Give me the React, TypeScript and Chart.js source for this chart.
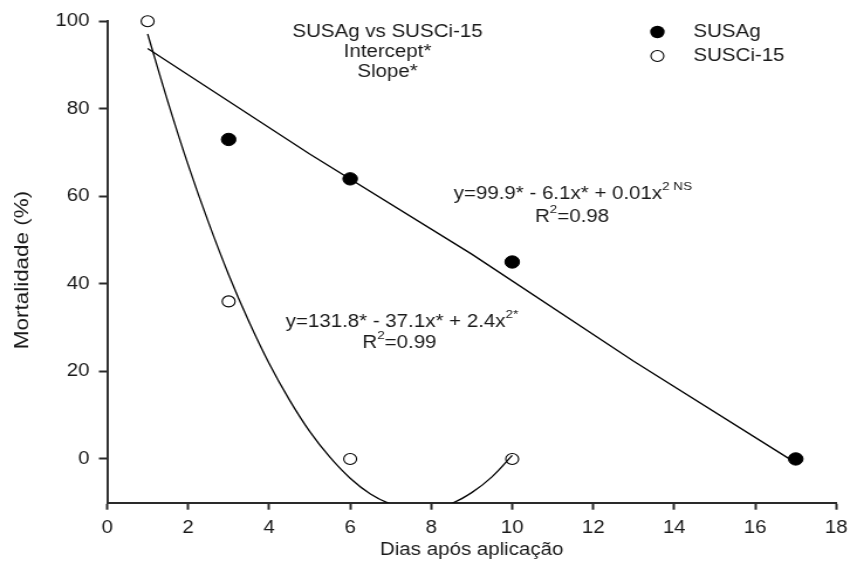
import React, { useEffect, useRef } from "react";
import { Chart, registerables } from "chart.js";

Chart.register(...registerables);

// ---- data ----
const seriesNames = ["SUSAg", "SUSCi-15"];
const susAgDays = [3, 6, 10, 17];
const susAgMort = [73, 64, 45, 0];
const susCiDays = [1, 3, 6, 10];
const susCiMort = [100, 36, 0, 0];

// fitted curves as traced on the picture
const susAgFitDays = [1, 5, 9, 13, 17];
const susAgFitMort = [93.8, 69.7, 46.8, 22.3, -0.9];
const susCiFitDays = [1, 1.5, 2, 2.5, 3, 3.5, 4, 4.5, 5, 5.5, 6, 6.5, 7, 7.5, 8, 8.5, 9, 9.5, 10];
const susCiFitMort = [97.1, 81.6, 67.2, 54.1, 42.1, 31.4, 21.8, 13.5, 6.3, 0.4, -4.4, -8.0, -10.3, -11.5, -11.4, -10.2, -7.7, -4.1, 0.8];

const xTicks = [0, 2, 4, 6, 8, 10, 12, 14, 16, 18];
const yTicks = [0, 20, 40, 60, 80, 100];

const xTitle = "Dias após aplicação";
const yTitle = "Mortalidade (%)";
const headerLines = ["SUSAg vs SUSCi-15", "Intercept*", "Slope*"];
const eqAg = [{ t: "y=99.9* - 6.1x* + 0.01x" }, { t: "2 NS", sup: true }];
const r2Ag = [{ t: "R" }, { t: "2", sup: true }, { t: "=0.98" }];
const eqCi = [{ t: "y=131.8* - 37.1x* + 2.4x" }, { t: "2*", sup: true }];
const r2Ci = [{ t: "R" }, { t: "2", sup: true }, { t: "=0.99" }];

// ---- layout / style ----
const STRETCH = 1.17;
const W = Math.round(857 / STRETCH);
const H = 582;
const FAMILY = "'Liberation Sans', Arial, sans-serif";
const FS = 17.5;
const TEXT = "#1a1a1a";
const AXIS = "#2a2a2a";
const TICK_LEN = 7;

type Part = { t: string; sup?: boolean };

function drawRich(ctx: CanvasRenderingContext2D, parts: Part[], cx: number, cy: number) {
  const main = `${FS}px ${FAMILY}`;
  const small = `11.5px ${FAMILY}`;
  let total = 0;
  const widths = parts.map((p) => {
    ctx.font = p.sup ? small : main;
    const w = ctx.measureText(p.t).width;
    total += w;
    return w;
  });
  let x = cx - total / 2;
  ctx.textAlign = "left";
  parts.forEach((p, i) => {
    ctx.font = p.sup ? small : main;
    ctx.fillText(p.t, x, p.sup ? cy - 7 : cy);
    x += widths[i];
  });
}

const annotPlugin = {
  id: "annot",
  afterDraw(chart: any) {
    const ctx: CanvasRenderingContext2D = chart.ctx;
    ctx.save();
    ctx.fillStyle = TEXT;
    ctx.textBaseline = "middle";
    ctx.textAlign = "center";
    ctx.font = `${FS}px ${FAMILY}`;
    headerLines.forEach((t, i) => ctx.fillText(t, 331, 31.7 + i * 20));

    // y-axis title (long, rotated)
    ctx.save();
    ctx.translate(18.8, 270);
    ctx.rotate(-Math.PI / 2);
    ctx.scale(1.3, 1);
    ctx.font = `17.3px ${FAMILY}`;
    ctx.fillText(yTitle, 0, 0);
    ctx.restore();

    // legend
    const lx = 561.5;
    const ly = [32, 56];
    ctx.beginPath();
    ctx.arc(lx, ly[0], 6.2, 0, Math.PI * 2);
    ctx.fillStyle = "#000";
    ctx.fill();
    ctx.beginPath();
    ctx.arc(lx, ly[1], 5.5, 0, Math.PI * 2);
    ctx.fillStyle = "#fff";
    ctx.fill();
    ctx.lineWidth = 1.1;
    ctx.strokeStyle = "#000";
    ctx.stroke();
    ctx.fillStyle = TEXT;
    ctx.textAlign = "left";
    ctx.font = `${FS}px ${FAMILY}`;
    ctx.fillText(seriesNames[0], 592.3, ly[0]);
    ctx.fillText(seriesNames[1], 592.3, ly[1]);

    drawRich(ctx, eqAg, 489.3, 194);
    drawRich(ctx, r2Ag, 488.6, 216.7);
    drawRich(ctx, eqCi, 343.3, 321.7);
    drawRich(ctx, r2Ci, 341.2, 343.3);
    ctx.restore();
  },
};

export default function App() {
  const ref = useRef<HTMLCanvasElement | null>(null);

  useEffect(() => {
    document.body.style.margin = "0";
    const canvas = ref.current;
    if (!canvas) return;
    const font = { family: FAMILY, size: FS };
    const toPts = (xs: number[], ys: number[]) => xs.map((x, i) => ({ x, y: ys[i] }));
    const axisGrid = {
      display: true,
      drawOnChartArea: false,
      drawTicks: true,
      tickLength: TICK_LEN,
      tickWidth: 2,
      tickColor: AXIS,
    };

    const chart = new Chart(canvas, {
      type: "scatter",
      data: {
        datasets: [
          {
            label: seriesNames[0] + " fit",
            data: toPts(susAgFitDays, susAgFitMort),
            showLine: true,
            borderColor: "#000",
            borderWidth: 1.3,
            pointRadius: 0,
            tension: 0,
          },
          {
            label: seriesNames[1] + " fit",
            data: toPts(susCiFitDays, susCiFitMort),
            showLine: true,
            borderColor: "#000",
            borderWidth: 1.3,
            pointRadius: 0,
            tension: 0.4,
          },
          {
            label: seriesNames[0],
            data: toPts(susAgDays, susAgMort),
            backgroundColor: "#000",
            borderColor: "#000",
            borderWidth: 1,
            pointRadius: 6.2,
            clip: false,
          },
          {
            label: seriesNames[1],
            data: toPts(susCiDays, susCiMort),
            backgroundColor: "#fff",
            borderColor: "#000",
            borderWidth: 1.1,
            pointRadius: 5.5,
            clip: false,
          },
        ],
      } as any,
      options: {
        responsive: false,
        animation: false,
        devicePixelRatio: 1,
        layout: { padding: { top: 21.3, right: W - 721.4, left: 0, bottom: 0 } },
        plugins: { legend: { display: false }, tooltip: { enabled: false } },
        scales: {
          x: {
            type: "linear",
            min: 0,
            max: 18,
            afterBuildTicks: (s: any) => {
              s.ticks = xTicks.map((v) => ({ value: v }));
            },
            afterFit: (s: any) => {
              s.height = H - 502.7;
            },
            grid: axisGrid,
            border: { display: true, color: AXIS, width: 1.9 },
            ticks: { font, color: TEXT, padding: 8, maxRotation: 0, autoSkip: false },
            title: {
              display: true,
              text: xTitle,
              font,
              color: TEXT,
              padding: { top: 0, bottom: 21.5 },
            },
          },
          y: {
            type: "linear",
            min: -10,
            max: 100,
            afterBuildTicks: (s: any) => {
              s.ticks = yTicks.map((v) => ({ value: v }));
            },
            afterFit: (s: any) => {
              s.width = 91.5;
            },
            grid: axisGrid,
            border: { display: true, color: AXIS, width: 1.9 },
            ticks: { font, color: TEXT, padding: 8 },
            title: { display: false },
          },
        },
      } as any,
      plugins: [annotPlugin],
    });
    return () => chart.destroy();
  }, []);

  return (
    <div style={{ width: 857, height: 582 }}>
      <canvas
        ref={ref}
        width={W}
        height={H}
        style={{ width: "857px", height: "582px", display: "block" }}
      />
    </div>
  );
}
